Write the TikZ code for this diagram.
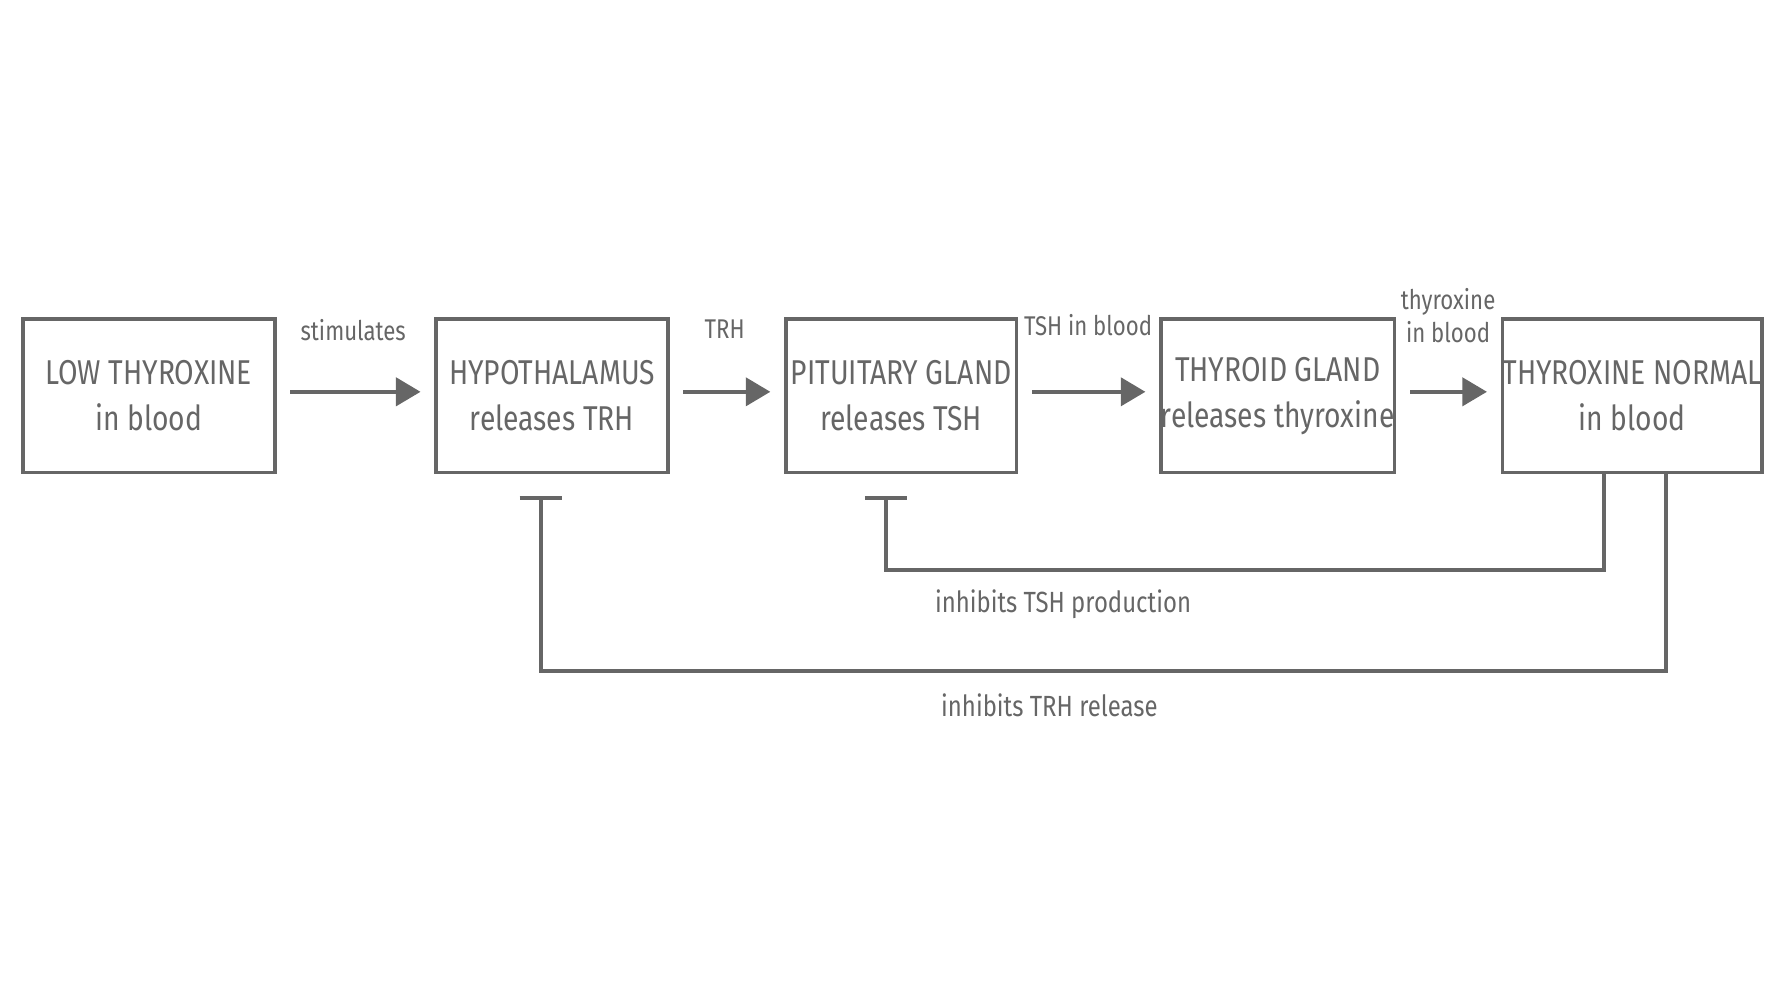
\documentclass[tikz,border=0pt]{standalone}
\usepackage{fontspec}
\setmainfont{Fira Sans}[FakeStretch=0.82]
\usetikzlibrary{arrows.meta}
\definecolor{g}{HTML}{666666}
\begin{document}
\begin{tikzpicture}[x=0.011357cm,y=-0.011357cm,
  box/.style={draw=g,line width=1.1pt,text=g,align=center,inner sep=0pt,font=\fontsize{9.8}{13}\selectfont,minimum height=135*0.011357cm},
  lab/.style={text=g,align=center,font=\fontsize{7.7}{9.5}\selectfont},
  arr/.style={draw=g,line width=1.1pt,-{Triangle[length=7pt,width=8pt]}},
  inh/.style={draw=g,line width=1.1pt,-{Bar[width=12pt,line width=1.1pt]}}]
\useasboundingbox (0,0) rectangle (1562,879);
\node[box,minimum width=222*0.011357cm] (b1) at (131,348.5) {LOW THYROXINE\\in blood};
\node[box,minimum width=204*0.011357cm] (b2) at (486,348.5) {HYPOTHALAMUS\\releases TRH};
\node[box,minimum width=203*0.011357cm] (b3) at (793.5,348.5) {PITUITARY GLAND\\releases TSH};
\node[box,minimum width=194*0.011357cm] (b4) at (1125,348.5) {THYROID GLAND\\releases thyroxine};
\node[box,minimum width=222*0.011357cm] (b5) at (1437,348.5) {THYROXINE NORMAL\\in blood};
\draw[arr] ([xshift=12*0.011357cm]b1.east |- 0,345) -- ([xshift=-12*0.011357cm]b2.west |- 0,345);
\draw[arr] ([xshift=12*0.011357cm]b2.east |- 0,345) -- ([xshift=-12*0.011357cm]b3.west |- 0,345);
\draw[arr] ([xshift=12*0.011357cm]b3.east |- 0,345) -- ([xshift=-12*0.011357cm]b4.west |- 0,345);
\draw[arr] ([xshift=12*0.011357cm]b4.east |- 0,345) -- ([xshift=-12*0.011357cm]b5.west |- 0,345);
\node[lab] (l1) at (311,291) {stimulates};
\node[lab] (l2) at (638,290) {TRH};
\node[lab] (l3) at (958,286) {TSH in blood};
\node[lab] (l4) at (1275,278) {thyroxine\\in blood};
\coordinate (e1) at (780,437);
\coordinate (e2) at (476,437);
\draw[inh] (b5.south -| 1412,0) -- (1412,502) -- (780,502) -- (e1);
\draw[inh] (b5.south -| 1467,0) -- (1467,591) -- (476,591) -- (e2);
\node[lab,font=\fontsize{8.3}{10}\selectfont] (l5) at (936,532) {inhibits TSH production};
\node[lab,font=\fontsize{8.3}{10}\selectfont] (l6) at (924,621) {inhibits TRH release};
\end{tikzpicture}
\end{document}
